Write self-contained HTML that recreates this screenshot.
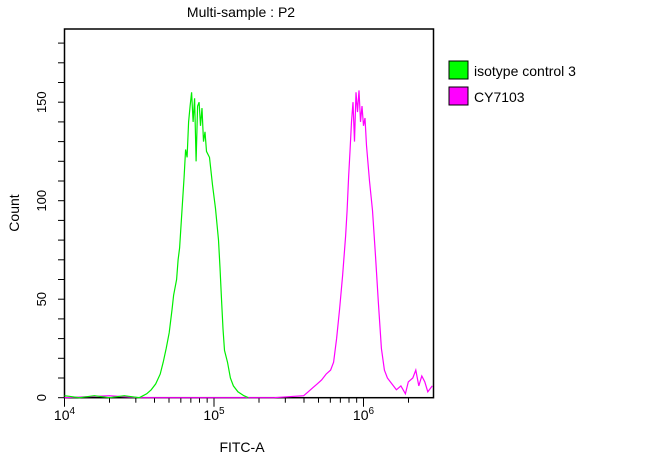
<!DOCTYPE html>
<html><head><meta charset="utf-8"><style>
body{margin:0;background:#fff;}
svg{display:block;font-family:"Liberation Sans",Arial,sans-serif;}
</style></head><body>
<svg id="chart" width="650" height="458">
<text x="241" y="17" text-anchor="middle" font-size="14">Multi-sample : P2</text>
<rect x="64.5" y="29" width="369" height="368.7" fill="none" stroke="#000" stroke-width="1.5"/>
<g id="axes"></g>
<g id="series"></g>
<text x="19" y="213" text-anchor="middle" font-size="14" transform="rotate(-90 19 213)">Count</text>
<text x="242" y="452" text-anchor="middle" font-size="14">FITC-A</text>
<g>
<rect x="449" y="61" width="19" height="18" fill="#00ff00" stroke="#000"/>
<text x="474" y="76" font-size="14">isotype control 3</text>
<rect x="449" y="87" width="19" height="18" fill="#ff00ff" stroke="#000"/>
<text x="474" y="102" font-size="14">CY7103</text>
</g>
</svg>
<script>
const greenLog=[4.00,4.10,4.20,4.30,4.40,4.50,4.55,4.58,4.61,4.64,4.66,4.68,4.70,4.72,4.73,4.75,4.76,4.77,4.78,4.79,4.80,4.81,4.82,4.83,4.84,4.85,4.86,4.87,4.88,4.89,4.90,4.91,4.92,4.93,4.94,4.95,4.97,4.99,5.01,5.03,5.04,5.05,5.06,5.07,5.09,5.11,5.13,5.16,5.20,5.23];
const greenCount=[1,0,1,0,1,0,2,4,7,12,18,25,33,45,52,60,70,76,88,100,112,126,122,140,148,155,140,152,120,148,150,138,147,130,135,125,122,108,96,80,66,50,35,24,18,10,6,3,1,0];
const magLog=[4.00,4.30,4.50,4.80,5.20,5.40,5.60,5.63,5.66,5.69,5.72,5.75,5.78,5.80,5.82,5.84,5.86,5.88,5.89,5.90,5.91,5.92,5.93,5.94,5.95,5.96,5.97,5.98,5.99,6.00,6.01,6.02,6.04,6.06,6.08,6.10,6.12,6.14,6.16,6.19,6.22,6.25,6.28,6.30,6.33,6.35,6.37,6.39,6.41,6.43,6.46];
const magCount=[0,1,0,0,0,0,1,3,5,7,9,12,14,18,30,45,62,82,95,112,125,140,150,130,155,145,156,140,148,138,142,128,110,95,72,48,25,14,10,7,4,6,2,8,10,14,6,11,8,3,6];
const yTicks=[0,50,100,150];
const xDecades=[4,5,6];
const X0=64.5,DEC=149.5,Y0=397.7,PPU=1.97,XMAXLOG=4+(433.5-64.5)/149.5;
const xs=l=>X0+(l-4)*DEC, ys=v=>Y0-v*PPU;
const NS="http://www.w3.org/2000/svg";
const axes=document.getElementById('axes'), ser=document.getElementById('series');
function mk(tag,attrs,parent){const e=document.createElementNS(NS,tag);for(const k in attrs)e.setAttribute(k,attrs[k]);parent.appendChild(e);return e;}
for(let v=0;v<=180;v+=10){
  const t=mk('line',{x1:58,x2:64.5,y1:ys(v),y2:ys(v),stroke:'#000','stroke-width':1},axes);
  
  
}
yTicks.forEach(v=>{
  const t=mk('text',{x:0,y:0,'font-size':13,'text-anchor':'middle',transform:`translate(${46},${ys(v)}) rotate(-90)`},axes);
  t.textContent=v;
  
  
});
for(let d=4;d<=6;d++){for(let m=1;m<=9;m++){const l=d+Math.log10(m);if(l>XMAXLOG)break;
  const len=m===1?9:5;
  const t=mk('line',{x1:xs(l),x2:xs(l),y1:Y0,y2:Y0+len,stroke:'#000','stroke-width':1},axes);
  
  
}}
xDecades.forEach(d=>{
  const t=mk('text',{x:xs(d),y:420,'font-size':14,'text-anchor':'middle'},axes);
  t.innerHTML=`10<tspan dy="-6" font-size="10">${d}</tspan>`;
  
  
});
function linePath(L,C){return L.map((l,i)=>(i?'L':'M')+xs(l).toFixed(1)+','+ys(C[i]).toFixed(1)).join('');}
const m=mk('path',{d:linePath(magLog,magCount),fill:'none',stroke:'#ff00ff','stroke-width':1.2},ser);


const g=mk('path',{d:linePath(greenLog,greenCount),fill:'none',stroke:'#00ee00','stroke-width':1.2},ser);


</script>
</body></html>
